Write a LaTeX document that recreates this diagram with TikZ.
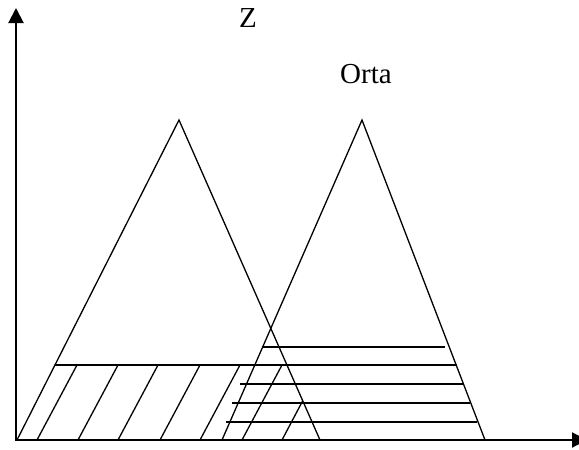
\documentclass[tikz,border=0pt]{standalone}
\usepackage{fontspec}
\setmainfont{Liberation Serif}
\usetikzlibrary{arrows.meta}
\begin{document}
\begin{tikzpicture}[x=1pt,y=-1pt,
  axis/.style={line width=2pt,-{Triangle[length=15pt,width=15pt]}},
  tri/.style={line width=1.3pt,line join=miter},
  hatch/.style={line width=1.3pt},
  lbl/.style={font=\fontsize{29}{32}\selectfont, inner sep=0pt, anchor=base}]
\useasboundingbox (0,0) rectangle (579,450);
% axes
\coordinate (Oy) at (16,441);
\coordinate (Ox) at (15,440);
\coordinate (ytip) at (16,8);
\coordinate (xtip) at (587,440);
\draw[axis] (Oy) -- (ytip);
\draw[axis] (Ox) -- (xtip);
% triangles
\coordinate (L1) at (17,440);
\coordinate (LA) at (179,120);
\coordinate (L2) at (320,440);
\coordinate (R1) at (222,440);
\coordinate (RA) at (362,120);
\coordinate (R2) at (485,440);
\draw[tri] (L1) -- (LA) -- (L2);
\draw[tri] (R1) -- (RA) -- (R2);
% diagonal hatching in left triangle
\foreach \xb in {37,78,118,160,200,242}{
  \draw[hatch] (\xb,440) -- (\xb+40,365);
}
\draw[hatch] (282,440) -- (302.6,401);
% horizontal hatching
\draw[hatch] (55,365) -- (457,365);
\draw[hatch] (262,347) -- (445,347);
\draw[hatch] (240,384) -- (463,384);
\draw[hatch] (232,403) -- (470,403);
\draw[hatch] (226,422) -- (477,422);
% labels
\node[lbl] (z) at (248,27) {Z};
\node[lbl] (orta) at (366,83) {Orta};
\end{tikzpicture}
\end{document}
